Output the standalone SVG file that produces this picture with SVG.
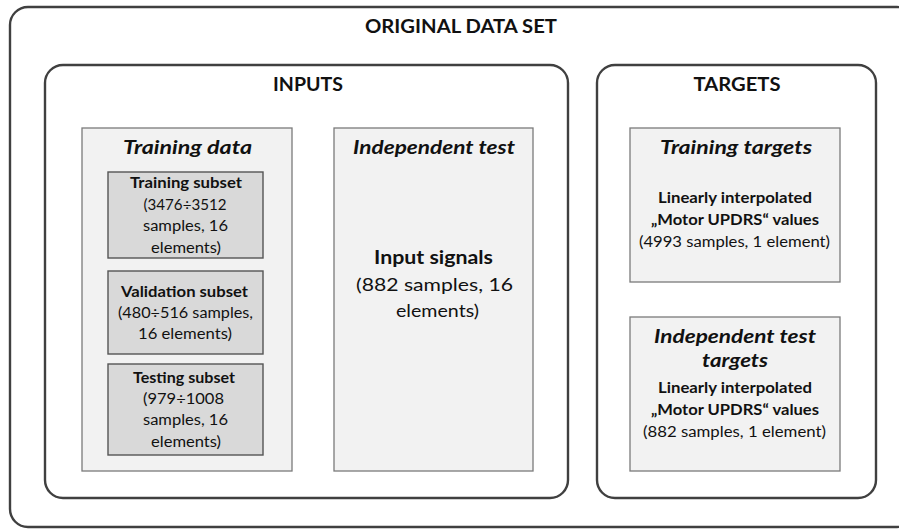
<svg xmlns="http://www.w3.org/2000/svg" width="899" height="529" viewBox="0 0 899 529">
<style>
.frame{fill:#ffffff;stroke:#404040;stroke-width:2.4}
.panel{fill:#f2f2f2;stroke:#7a7a7a;stroke-width:1.3}
.sub{fill:#d9d9d9;stroke:#555555;stroke-width:1.4}
text{font-family:Lato,"Open Sans","Noto Sans",sans-serif;fill:#111111;text-anchor:middle}
.title{font-size:18.5px;font-weight:bold}
.head{font-size:19px;font-weight:bold;font-style:italic}
.b{font-size:15.5px;font-weight:bold}
.r{font-size:15.5px}
.bl{font-size:18px;font-weight:bold}
.rl{font-size:18px}
</style>
<rect width="899" height="529" fill="#ffffff"/>
<g id="original-data-set">
<rect class="frame" x="10" y="7" width="905" height="520" rx="18"/>
<text class="title" x="461" y="33" textLength="192" lengthAdjust="spacingAndGlyphs">ORIGINAL DATA SET</text>
</g>
<g id="inputs">
<rect class="frame" x="45" y="65" width="523" height="433" rx="18"/>
<text class="title" x="308" y="91" textLength="70" lengthAdjust="spacingAndGlyphs">INPUTS</text>
</g>
<g id="targets">
<rect class="frame" x="597" y="65" width="279" height="433" rx="18"/>
<text class="title" x="737" y="91" textLength="87" lengthAdjust="spacingAndGlyphs">TARGETS</text>
</g>
<g id="training-data">
<rect class="panel" x="82" y="128" width="210" height="343"/>
<text class="head" x="187.5" y="154" textLength="129" lengthAdjust="spacingAndGlyphs">Training data</text>
</g>
<g id="training-subset">
<rect class="sub" x="108" y="172" width="155" height="86"/>
<text class="b" x="186" y="188" textLength="112" lengthAdjust="spacingAndGlyphs">Training subset</text>
<text class="r" x="185" y="210" textLength="83" lengthAdjust="spacingAndGlyphs">(3476÷3512</text>
<text class="r" x="185.5" y="231" textLength="85" lengthAdjust="spacingAndGlyphs">samples, 16</text>
<text class="r" x="186" y="253" textLength="70" lengthAdjust="spacingAndGlyphs">elements)</text>
</g>
<g id="validation-subset">
<rect class="sub" x="108" y="271" width="155" height="83"/>
<text class="b" x="184.5" y="297" textLength="127" lengthAdjust="spacingAndGlyphs">Validation subset</text>
<text class="r" x="185.5" y="318" textLength="135" lengthAdjust="spacingAndGlyphs">(480÷516 samples,</text>
<text class="r" x="185" y="339" textLength="94" lengthAdjust="spacingAndGlyphs">16 elements)</text>
</g>
<g id="testing-subset">
<rect class="sub" x="108" y="364" width="155" height="91"/>
<text class="b" x="184" y="383" textLength="102" lengthAdjust="spacingAndGlyphs">Testing subset</text>
<text class="r" x="183.5" y="404" textLength="81" lengthAdjust="spacingAndGlyphs">(979÷1008</text>
<text class="r" x="185.5" y="425" textLength="85" lengthAdjust="spacingAndGlyphs">samples, 16</text>
<text class="r" x="186" y="447" textLength="70" lengthAdjust="spacingAndGlyphs">elements)</text>
</g>
<g id="independent-test">
<rect class="panel" x="334" y="128" width="199" height="343"/>
<text class="head" x="434" y="154" textLength="162" lengthAdjust="spacingAndGlyphs">Independent test</text>
<text class="bl" x="433.5" y="264" textLength="119" lengthAdjust="spacingAndGlyphs">Input signals</text>
<text class="rl" x="434.5" y="291" textLength="157" lengthAdjust="spacingAndGlyphs">(882 samples, 16</text>
<text class="rl" x="437.5" y="317" textLength="83" lengthAdjust="spacingAndGlyphs">elements)</text>
</g>
<g id="training-targets">
<rect class="panel" x="630" y="128" width="210" height="154"/>
<text class="head" x="736" y="154" textLength="152" lengthAdjust="spacingAndGlyphs">Training targets</text>
<text class="b" x="735" y="203" textLength="154" lengthAdjust="spacingAndGlyphs">Linearly interpolated</text>
<text class="b" x="735" y="225" textLength="168" lengthAdjust="spacingAndGlyphs">„Motor UPDRS“ values</text>
<text class="r" x="734.5" y="247" textLength="191" lengthAdjust="spacingAndGlyphs">(4993 samples, 1 element)</text>
</g>
<g id="independent-test-targets">
<rect class="panel" x="630" y="317" width="210" height="154"/>
<text class="head" x="735" y="343" textLength="162" lengthAdjust="spacingAndGlyphs">Independent test</text>
<text class="head" x="735" y="367" textLength="66" lengthAdjust="spacingAndGlyphs">targets</text>
<text class="b" x="735" y="393" textLength="154" lengthAdjust="spacingAndGlyphs">Linearly interpolated</text>
<text class="b" x="735" y="415" textLength="168" lengthAdjust="spacingAndGlyphs">„Motor UPDRS“ values</text>
<text class="r" x="734.5" y="437" textLength="183" lengthAdjust="spacingAndGlyphs">(882 samples, 1 element)</text>
</g>
<g id="connectors"/>
</svg>
